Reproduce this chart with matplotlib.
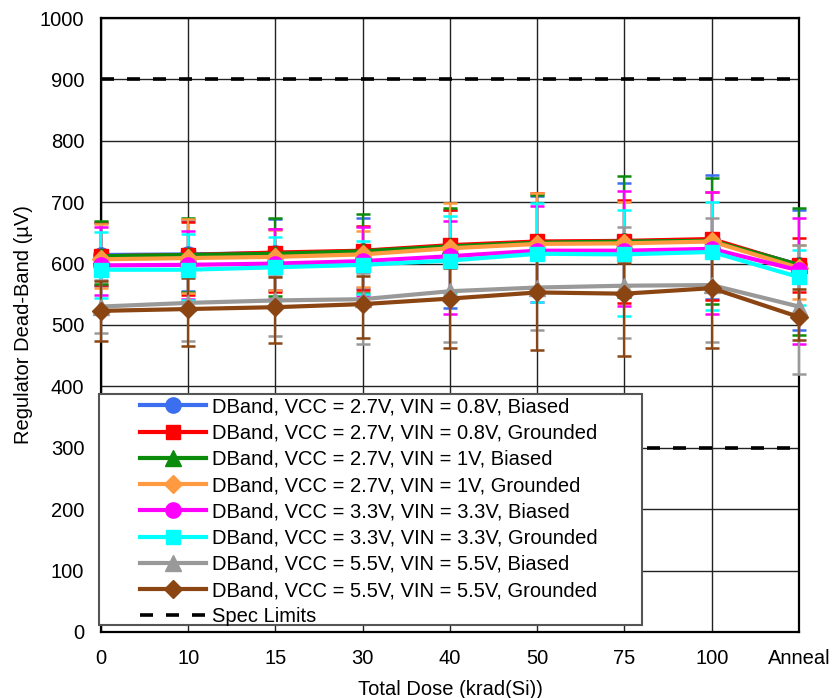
"""Regulator dead-band vs total dose, with spec limits"""

import numpy as np
import matplotlib.pyplot as plt
from matplotlib.patches import Rectangle

# data
# ========================================
doses = ['0', '10', '15', '30', '40', '50', '75', '100', 'Anneal']

labels = [
    'DBand, VCC = 2.7V, VIN = 0.8V, Biased',
    'DBand, VCC = 2.7V, VIN = 0.8V, Grounded',
    'DBand, VCC = 2.7V, VIN = 1V, Biased',
    'DBand, VCC = 2.7V, VIN = 1V, Grounded',
    'DBand, VCC = 3.3V, VIN = 3.3V, Biased',
    'DBand, VCC = 3.3V, VIN = 3.3V, Grounded',
    'DBand, VCC = 5.5V, VIN = 5.5V, Biased',
    'DBand, VCC = 5.5V, VIN = 5.5V, Grounded',
]

# mean dead-band (uV) per dose step
v27_08_b = [614, 615, 617, 620, 628, 635, 636, 638, 598]
v27_08_g = [612, 614, 618, 621, 630, 636, 637, 640, 597]
v27_1_b = [612, 614, 616, 620, 628, 634, 636, 637, 598]
v27_1_g = [607, 609, 611, 615, 625, 632, 633, 636, 593]
v33_b = [597, 598, 600, 604, 612, 621, 621, 624, 589]
v33_g = [590, 590, 594, 598, 605, 616, 615, 619, 578]
v55_b = [530, 536, 540, 542, 555, 561, 564, 565, 530]
v55_g = [523, 526, 529, 534, 543, 553, 551, 560, 513]

# error bar extents below / above the mean
lo_27_08_b = [51, 60, 60, 60, 101, 80, 90, 95, 106]
hi_27_08_b = [52, 56, 55, 55, 60, 75, 95, 106, 90]
lo_27_08_g = [47, 65, 65, 64, 75, 80, 101, 100, 43]
hi_27_08_g = [56, 53, 39, 41, 58, 79, 67, 77, 45]
lo_27_1_b = [45, 60, 69, 68, 75, 78, 90, 102, 114]
hi_27_1_b = [58, 61, 58, 61, 63, 78, 106, 103, 92]
lo_27_1_g = [47, 57, 54, 53, 70, 75, 70, 80, 50]
hi_27_1_g = [57, 63, 44, 38, 74, 83, 67, 81, 37]
lo_33_b = [48, 55, 58, 56, 94, 84, 90, 106, 120]
hi_33_b = [63, 55, 56, 56, 58, 72, 97, 93, 85]
lo_33_g = [46, 50, 55, 48, 55, 79, 100, 95, 46]
hi_33_g = [61, 58, 49, 39, 73, 83, 73, 82, 44]
lo_55_b = [43, 62, 58, 73, 82, 69, 86, 92, 110]
hi_55_b = [43, 45, 40, 42, 45, 55, 96, 110, 100]
lo_55_g = [49, 60, 58, 56, 80, 94, 101, 98, 37]
hi_55_g = [49, 50, 49, 45, 50, 55, 50, 60, 45]

spec_low = 300
spec_high = 900

means = [v27_08_b, v27_08_g, v27_1_b, v27_1_g, v33_b, v33_g, v55_b, v55_g]
lows = [lo_27_08_b, lo_27_08_g, lo_27_1_b, lo_27_1_g, lo_33_b, lo_33_g, lo_55_b, lo_55_g]
highs = [hi_27_08_b, hi_27_08_g, hi_27_1_b, hi_27_1_g, hi_33_b, hi_33_g, hi_55_b, hi_55_g]

colors = ['#3b6ff0', '#ff0000', '#0a8c0a', '#ff9a40',
          '#ff00ff', '#00ffff', '#999999', '#8b4513']
markers = ['o', 's', '^', 'D', 'o', 's', '^', 'D']
msizes = [11, 10.5, 11, 9, 11, 10.5, 11, 9]

# plot
# ========================================
plt.rcParams['font.family'] = ['Liberation Sans', 'DejaVu Sans']
plt.rcParams['font.size'] = 14.5

fig = plt.figure(figsize=(8.32, 6.98), dpi=100)
ax = fig.add_axes([0.1214, 0.0946, 0.8389, 0.8796])

x = np.arange(len(doses))

# error bars first so the lines sit on top
for m, lo, hi, c in zip(means, lows, highs, colors):
    ax.errorbar(x, m, yerr=[lo, hi], fmt='none', ecolor=c, elinewidth=1.6,
                capsize=5, capthick=1.8, zorder=3, clip_on=False)

for m, c, mk, ms, lab in zip(means, colors, markers, msizes, labels):
    ax.plot(x, m, color=c, lw=3.0, marker=mk, markersize=ms,
            label=lab, zorder=4, clip_on=False)

ax.axhline(spec_high, color='black', lw=2.6, ls=(0, (3.6, 3.6)), zorder=2,
           label='Spec Limits')
ax.axhline(spec_low, color='black', lw=2.6, ls=(0, (3.6, 3.6)), zorder=2)

ax.set_xlim(0, len(doses) - 1)
ax.set_ylim(0, 1000)
ax.set_xticks(x)
ax.set_xticklabels(doses)
ax.set_yticks(np.arange(0, 1001, 100))
ax.tick_params(length=0, pad=12)
ax.grid(True, color='#222222', lw=1.0, zorder=1)
ax.set_axisbelow(True)
for s in ax.spines.values():
    s.set_linewidth(1.6)

ax.set_xlabel('Total Dose (krad(Si))', labelpad=9)
ax.set_ylabel('Regulator Dead-Band (\u00b5V)', labelpad=5)

# legend box drawn separately so it can be wider than its entries
box = Rectangle((-0.003, 0.0114), 0.7774, 0.3762, transform=ax.transAxes,
                facecolor='white', edgecolor='#555555', lw=1.5, zorder=8,
                clip_on=False)
ax.add_patch(box)

leg = ax.legend(loc='upper left', bbox_to_anchor=(0.0559, 0.382),
                borderaxespad=0, borderpad=0, frameon=False,
                handlelength=3.3, handletextpad=0.25, labelspacing=0.36)
leg.set_zorder(10)

plt.savefig('out.png', dpi=100)
